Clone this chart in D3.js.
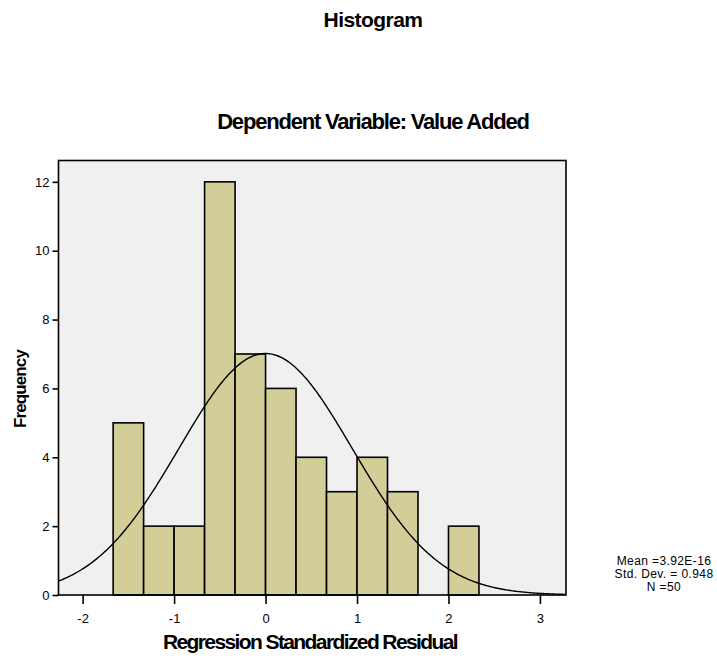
<!DOCTYPE html>
<html><head><meta charset="utf-8">
<script src="https://cdn.jsdelivr.net/npm/d3@7"></script>
<style>body{margin:0;background:#fff;} svg{display:block;font-family:"Liberation Sans",Arial,sans-serif;}</style>
</head><body>
<svg id="chart" width="717" height="659"></svg>
<script>
// Data
const binStarts = [-5/3, -4/3, -1, -2/3, -1/3, 0, 1/3, 2/3, 1, 4/3, 5/3, 2];
const binWidth = 1/3;
const counts = [5, 2, 2, 12, 7, 6, 4, 3, 4, 3, 0, 2];
const xTicks = [-2, -1, 0, 1, 2, 3];
const yTicks = [0, 2, 4, 6, 8, 10, 12];
const mean = 3.92e-16, sd = 0.948, N = 50;
const statLines = ["Mean =3.92E-16", "Std. Dev. = 0.948", "N =50"];

const svg = d3.select("#chart");
const L = 58.5, R = 566, T = 160.5, B = 595;
const x = d3.scaleLinear().domain([-2.264, 3.285]).range([L, R]);
const y = d3.scaleLinear().domain([0, 12.62]).range([B, T]);

svg.append("rect").attr("x", L).attr("y", T).attr("width", R - L).attr("height", B - T)
  .attr("fill", "#f0f0f0");

const bins = binStarts.map((s, i) => ({s, c: counts[i]})).filter(d => d.c > 0);
svg.append("g").selectAll("rect").data(bins).join("rect")
  .attr("x", d => x(d.s)).attr("y", d => y(d.c))
  .attr("width", d => x(d.s + binWidth) - x(d.s)).attr("height", d => y(0) - y(d.c))
  .attr("fill", "#d3ce98").attr("stroke", "#000").attr("stroke-width", 1.6);

// normal curve
const pdf = v => N * binWidth * Math.exp(-0.5 * ((v - mean) / sd) ** 2) / (sd * Math.sqrt(2 * Math.PI));
const pts = d3.range(0, 401).map(i => { const v = -2.264 + i * (3.285 + 2.264) / 400; return [v, pdf(v)]; });
svg.append("path").datum(pts)
  .attr("d", d3.line().x(d => x(d[0])).y(d => y(d[1])))
  .attr("fill", "none").attr("stroke", "#000").attr("stroke-width", 1.4);

// frame
svg.append("rect").attr("x", L).attr("y", T).attr("width", R - L).attr("height", B - T)
  .attr("fill", "none").attr("stroke", "#000").attr("stroke-width", 1.6);

// axes
const yAxis = svg.append("g").attr("transform", `translate(${L},0)`)
  .call(d3.axisLeft(y).tickValues(yTicks).tickSize(6).tickPadding(3).tickFormat(d => String(d)));
yAxis.select(".domain").remove();
yAxis.selectAll("line").attr("stroke-width", 1.6);
yAxis.selectAll("text").attr("font-size", 13).attr("fill", "#000").attr("font-family", "Liberation Sans, Arial, sans-serif");

const xAxis = svg.append("g").attr("transform", `translate(0,${B})`)
  .call(d3.axisBottom(x).tickValues(xTicks).tickSize(9).tickPadding(10).tickFormat(d => String(d)));
xAxis.select(".domain").remove();
xAxis.selectAll("line").attr("stroke-width", 1.6);
xAxis.selectAll("text").attr("font-size", 13).attr("fill", "#000").attr("font-family", "Liberation Sans, Arial, sans-serif");

// titles
svg.append("text").attr("x", 373).attr("y", 27).attr("text-anchor", "middle")
  .attr("font-size", 21).attr("font-weight", "bold").attr("letter-spacing", -0.55).text("Histogram");
svg.append("text").attr("x", 373).attr("y", 129).attr("text-anchor", "middle")
  .attr("font-size", 22).attr("font-weight", "bold").attr("letter-spacing", -1.2).text("Dependent Variable: Value Added");
svg.append("text").attr("x", 310).attr("y", 649).attr("text-anchor", "middle")
  .attr("font-size", 21).attr("font-weight", "bold").attr("letter-spacing", -1.6).text("Regression Standardized Residual");
svg.append("text").attr("transform", "translate(26,389) rotate(-90)").attr("text-anchor", "middle")
  .attr("font-size", 17).attr("font-weight", "bold").attr("letter-spacing", -0.9).text("Frequency");

// stats
svg.append("g").selectAll("text").data(statLines).join("text")
  .attr("x", 664).attr("y", (d, i) => 565 + i * 13.2).attr("text-anchor", "middle")
  .attr("font-size", 12).attr("letter-spacing", 0.4).text(d => d);
</script>
</body></html>
